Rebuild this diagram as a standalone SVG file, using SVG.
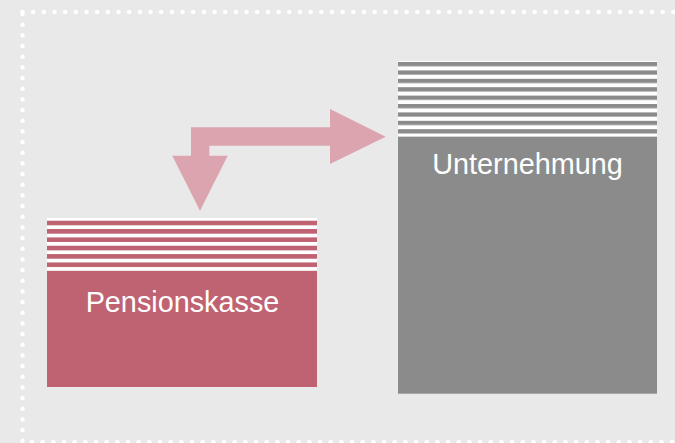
<svg xmlns="http://www.w3.org/2000/svg" width="675" height="443" viewBox="0 0 675 443">
<style>
.lbl{font-family:"Liberation Sans",Arial,sans-serif;font-size:28.8px;fill:#ffffff;text-anchor:middle}
.pk{fill:#bf6271}
.gr{fill:#8b8b8b}
</style>
<defs>
<pattern id="pkStripes" x="0" y="220.7" width="10" height="8.35" patternUnits="userSpaceOnUse">
<rect x="0" y="0" width="10" height="4.6" fill="#bf6271"/>
</pattern>
<pattern id="grStripes" x="0" y="62" width="10" height="8.4" patternUnits="userSpaceOnUse">
<rect x="0" y="0" width="10" height="4.3" fill="#8b8b8b"/>
</pattern>
</defs>
<rect x="0" y="0" width="675" height="443" fill="#e9e9e9"/>
<rect x="22.5" y="12" width="670" height="430" fill="none" stroke="#ffffff" stroke-width="4.5" stroke-linecap="round" stroke-dasharray="0 10.67"/>
<g id="connectors">
<path d="M191,127.3 H330 V109 L385.7,136.7 L330,164 V145.7 H209.3 V155.7 H227.7 L200,210.7 L172.3,155.7 H191 Z" fill="#dba4ae"/>
</g>
<g id="pensionskasse">
<rect x="47" y="218" width="270" height="54" fill="#ffffff"/>
<rect x="47" y="218" width="270" height="54" fill="url(#pkStripes)"/>
<rect class="pk" x="47" y="272" width="270" height="115"/>
<text class="lbl" x="182.5" y="311.7">Pensionskasse</text>
</g>
<g id="unternehmung">
<rect x="398" y="61" width="259" height="75.5" fill="#ffffff"/>
<rect x="398" y="61" width="259" height="75.5" fill="url(#grStripes)"/>
<rect class="gr" x="398" y="136.7" width="259" height="257"/>
<text class="lbl" x="527.5" y="174.3">Unternehmung</text>
</g>
</svg>
